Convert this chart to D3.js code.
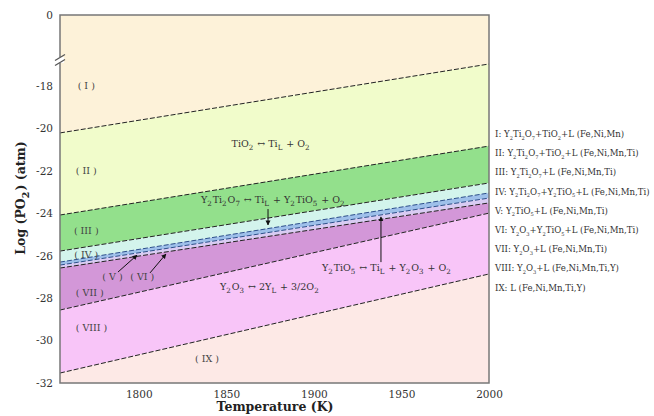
<html>
<script src="https://cdnjs.cloudflare.com/ajax/libs/d3/7.8.5/d3.min.js"></script>
<head>
<style>
  body { margin: 0; background: #fff; }
  text { font-family: "DejaVu Serif", "Liberation Serif", serif; }
</style>
</head>
<body>
<svg width="654" height="416"></svg>
<script>
// temperatures (K) at which each phase boundary was read
const tempK = [1755, 2000];
// log PO2 of each boundary, top to bottom, at 1755 K and at 2000 K
const boundaryIds = ["I/II", "II/III", "III/IV", "IV/V", "V/VI", "VI/VII", "VII/VIII", "VIII/IX"];
const logAtLow  = [-20.21, -24.08, -25.78, -26.30, -26.44, -26.58, -28.56, -31.53];
const logAtHigh = [-16.96, -20.83, -22.57, -23.04, -23.28, -23.51, -23.99, -26.86];

const regionIds = ["I", "II", "III", "IV", "V", "VI", "VII", "VIII", "IX"];
const regionFills = ["#fdf2d9", "#f1fccb", "#93e08c", "#d3f4ec", "#9ec0ea", "#d9ccf3", "#d397d8", "#f8c5f8", "#fde9e6"];
// where the region number is written (T, log PO2)
const regionLabelT = [1770, 1770, 1770, 1770, 1785, 1802, 1772, 1773, 1839];
const regionLabelP = [-18.0, -22.0, -24.83, -25.97, -27.0, -27.0, -27.76, -29.4, -30.87];

const legendTexts = [
  "I: Y_2Ti_2O_7+TiO_2+L (Fe,Ni,Mn)",
  "II: Y_2Ti_2O_7+TiO_2+L (Fe,Ni,Mn,Ti)",
  "III: Y_2Ti_2O_7+L (Fe,Ni,Mn,Ti)",
  "IV: Y_2Ti_2O_7+Y_2TiO_5+L (Fe,Ni,Mn,Ti)",
  "V: Y_2TiO_5+L (Fe,Ni,Mn,Ti)",
  "VI: Y_2O_3+Y_2TiO_5+L (Fe,Ni,Mn,Ti)",
  "VII: Y_2O_3+L (Fe,Ni,Mn,Ti)",
  "VIII: Y_2O_3+L (Fe,Ni,Mn,Ti,Y)",
  "IX: L (Fe,Ni,Mn,Ti,Y)"
];

const reactions = ["TiO_2 \u2194 Ti_L + O_2", "Y_2Ti_2O_7 \u2194 Ti_L + Y_2TiO_5 + O_2",
                   "Y_2TiO_5 \u2194 Ti_L + Y_2O_3 + O_2", "Y_2O_3 \u2194 2Y_L + 3/2O_2"];
const reactionT = [1853, 1835.5, 1904.6, 1846.4];
const reactionP = [-20.73, -23.37, -26.58, -27.47];

// arrows: start (T,P) -> end (T,P)
const arrowFrom = [[1873.8, -23.80], [1938.3, -26.30], [1788.1, -26.77], [1806.4, -26.81]];
const arrowTo   = [[1873.8, -24.55], [1938.3, -24.17], [1799.0, -25.97], [1815.5, -25.92]];

const yTicks = [-32, -30, -28, -26, -24, -22, -20, -18];
const xTicks = [1800, 1850, 1900, 1950, 2000];
const yTop = -14.65;   // drawn at the top, labelled 0 (broken axis)

const svg = d3.select("svg");
const x = d3.scaleLinear().domain([1755, 2000]).range([60, 489]);
const y = d3.scaleLinear().domain([-32, yTop]).range([383, 15]);

// region bands
const edges = [[yTop, yTop]].concat(boundaryIds.map((b, i) => [logAtLow[i], logAtHigh[i]])).concat([[-32, -32]]);
const area = d3.area()
    .x((d, i) => x(tempK[i]))
    .y0(d => y(d[1]))
    .y1(d => y(d[0]));

regionIds.forEach(function(r, i) {
    const top = edges[i], bot = edges[i + 1];
    svg.append("path")
        .datum([[top[0], bot[0]], [top[1], bot[1]]])
        .attr("d", area)
        .attr("fill", regionFills[i]);
});

// dashed boundaries
const line = d3.line().x((d, i) => x(tempK[i])).y(d => y(d));
boundaryIds.forEach(function(b, i) {
    svg.append("path")
        .datum([logAtLow[i], logAtHigh[i]])
        .attr("d", line)
        .attr("fill", "none")
        .attr("stroke", (i == 3 || i == 4) ? "#2b4f8a" : "#222")
        .attr("stroke-width", 1)
        .attr("stroke-dasharray", "5,2");
});

// text with _x subscripts
function subText(sel, str, size, subScale, gap) {
    const parts = str.split(/(_[0-9A-Za-z])/);
    let shifted = false;
    parts.forEach(function(p) {
        if (p.startsWith("_")) {
            sel.append("tspan").attr("font-size", size * subScale).attr("dy", shifted ? 0 : size * 0.3).text(p.slice(1));
            shifted = true;
        } else if (p.length) {
            sel.append("tspan").attr("dy", shifted ? -size * 0.3 : 0).text((shifted && gap ? "\u200a" : "") + p);
            shifted = false;
        }
    });
}

regionIds.forEach(function(r, i) {
    svg.append("text")
        .attr("x", x(regionLabelT[i]))
        .attr("y", y(regionLabelP[i]))
        .attr("dy", "0.35em")
        .attr("font-size", 9.5)
        .attr("fill", "#444")
        .attr("text-anchor", "middle")
        .attr("xml:space", "preserve")
        .text("( " + r + " )");
});

reactions.forEach(function(r, i) {
    const t = svg.append("text")
        .attr("x", x(reactionT[i]))
        .attr("y", y(reactionP[i]) + 3)
        .attr("font-size", 9.5)
        .attr("fill", "#333");
    subText(t, r, 9.5, 0.75, true);
});

svg.append("defs").append("marker")
    .attr("id", "head")
    .attr("viewBox", "0 0 10 10")
    .attr("refX", 9).attr("refY", 5)
    .attr("markerWidth", 5).attr("markerHeight", 6)
    .attr("orient", "auto")
    .append("path").attr("d", "M0,0L10,5L0,10z").attr("fill", "#111");

arrowFrom.forEach(function(a, i) {
    svg.append("line")
        .attr("x1", x(a[0])).attr("y1", y(a[1]))
        .attr("x2", x(arrowTo[i][0])).attr("y2", y(arrowTo[i][1]))
        .attr("stroke", "#111").attr("stroke-width", 1)
        .attr("marker-end", "url(#head)");
});

// frame
svg.append("rect")
    .attr("x", 60).attr("y", 15).attr("width", 429).attr("height", 368)
    .attr("fill", "none").attr("stroke", "#777").attr("stroke-width", 1.5);

// axes
const yAxis = svg.append("g")
    .attr("transform", "translate(60,0)")
    .call(d3.axisLeft(y).tickValues(yTicks.concat([yTop])).tickSize(0).tickPadding(7)
        .tickFormat(d => d == yTop ? "0" : d));
const xAxis = svg.append("g")
    .attr("transform", "translate(0,383)")
    .call(d3.axisBottom(x).tickValues(xTicks).tickSize(0).tickPadding(8).tickFormat(d3.format("d")));
[yAxis, xAxis].forEach(function(g) {
    g.select(".domain").remove();
    g.selectAll("text").attr("font-family", "DejaVu Serif").attr("font-size", 10.5).attr("fill", "#333");
});

// axis break
const yb = 60;
svg.append("rect").attr("x", 56).attr("y", yb - 3).attr("width", 8).attr("height", 6).attr("fill", "#fff");
[-2.5, 2.5].forEach(function(o) {
    svg.append("line")
        .attr("x1", 55).attr("y1", yb + o + 3)
        .attr("x2", 65).attr("y2", yb + o - 3)
        .attr("stroke", "#555").attr("stroke-width", 1.2);
});

// axis titles
svg.append("text")
    .attr("x", 275).attr("y", 411)
    .attr("text-anchor", "middle")
    .attr("font-weight", "bold").attr("font-size", 12.5).attr("fill", "#222")
    .text("Temperature (K)");
const yt = svg.append("text")
    .attr("transform", "translate(25,198) rotate(-90)")
    .attr("text-anchor", "middle")
    .attr("font-weight", "bold").attr("font-size", 12.5).attr("fill", "#222");
subText(yt, "Log (PO_2) (atm)", 12.5, 0.75, true);

// legend
legendTexts.forEach(function(s, i) {
    const t = svg.append("text")
        .attr("x", 495)
        .attr("y", 137 + i * 19.2)
        .attr("font-family", "Liberation Serif")
        .attr("font-size", 8.6)
        .attr("fill", "#333");
    subText(t, s, 8.6, 0.6, false);
});
</script>
</body>
</html>
